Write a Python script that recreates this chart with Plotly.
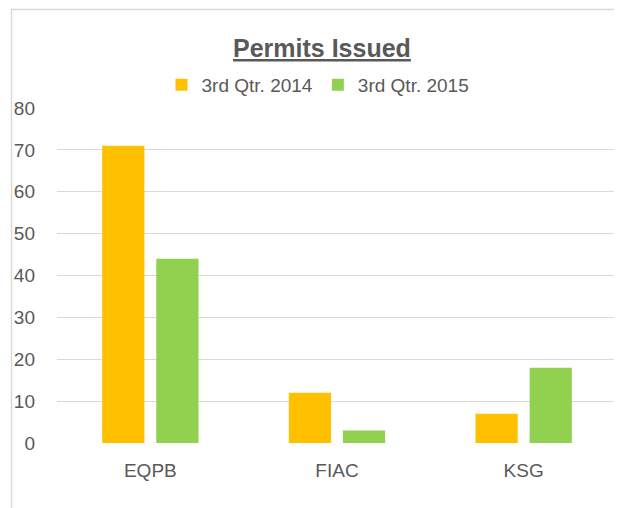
import plotly.graph_objects as go

categories = ["EQPB", "FIAC", "KSG"]
series_names = ["3rd Qtr. 2014", "3rd Qtr. 2015"]
values_2014 = [71, 12, 7]
values_2015 = [44, 3, 18]
y_ticks = [0, 10, 20, 30, 40, 50, 60, 70, 80]

FONT = "Liberation Sans, Arial, sans-serif"
TXT = "#595959"

fig = go.Figure()
fig.add_trace(go.Bar(x=categories, y=values_2014, name=series_names[0],
                     marker=dict(color="#FFC000", line=dict(width=0))))
fig.add_trace(go.Bar(x=categories, y=values_2015, name=series_names[1],
                     marker=dict(color="#92D050", line=dict(width=0))))

# page body has an 8px margin, so figure pixel = screen pixel - 8
OFF = 8
W, H = 614, 500
L, R, T, B = 57 - OFF, 5, 108 - OFF, 65
pw, ph = W - L - R, H - T - B

def px2paper_x(px):
    return (px - OFF - L) / pw

def px2paper_y(py):
    return (H - B - (py - OFF)) / ph

fig.update_layout(
    width=W, height=H,
    margin=dict(l=L, r=R, t=T, b=B, autoexpand=False),
    paper_bgcolor="white", plot_bgcolor="white",
    font=dict(family=FONT, color=TXT, size=19),
    barmode="group", bargap=0.42, bargroupgap=0.22,
    showlegend=True,
    legend=dict(orientation="h", xref="paper", yref="paper",
                x=px2paper_x(318), y=px2paper_y(85), xanchor="center", yanchor="middle",
                font=dict(size=19, color=TXT, family=FONT),
                itemwidth=30, traceorder="normal", tracegroupgap=0),
    xaxis=dict(showgrid=False, showline=False, zeroline=False,
               tickfont=dict(size=19, color=TXT), ticklabelstandoff=14,
               automargin=False),
    yaxis=dict(range=[0, 80], tickvals=y_ticks, showgrid=True,
               gridcolor="#D9D9D9", gridwidth=1.3, zeroline=False,
               showline=False, tickfont=dict(size=19, color=TXT),
               ticklabelstandoff=21, automargin=False),
    annotations=[dict(text="<b><u>Permits Issued</u></b>", xref="paper",
                      yref="paper", x=px2paper_x(322), y=px2paper_y(48),
                      xanchor="center", yanchor="middle", showarrow=False,
                      font=dict(size=25, color=TXT, family=FONT))],
    shapes=[dict(type="rect", xref="paper", yref="paper",
                 x0=px2paper_x(11.5), x1=px2paper_x(660),
                 y0=px2paper_y(560), y1=px2paper_y(9.5),
                 line=dict(color="#D9D9D9", width=1.5), layer="below")],
)

fig.write_html("out.html")
